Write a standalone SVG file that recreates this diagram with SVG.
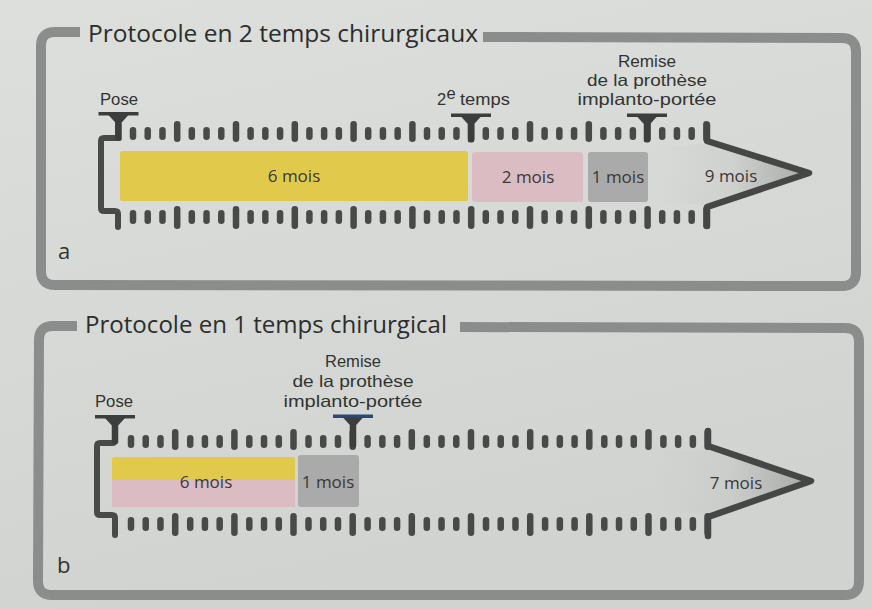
<svg xmlns="http://www.w3.org/2000/svg" xmlns:xlink="http://www.w3.org/1999/xlink" width="872" height="609" viewBox="0 0 872 609">
<style>
.frame{fill:none;stroke:#8b8d8c;stroke-width:10;stroke-linejoin:round}
.tick{fill:#484a49}
.brk{fill:none;stroke:#484a49;stroke-width:6;stroke-linejoin:round;stroke-linecap:round}
.arrow{fill:none;stroke:#454746;stroke-width:6.5;stroke-linejoin:round;stroke-linecap:round}
.shade{fill:url(#shadeGrad)}
.title{font-family:"Open Sans","Noto Sans",sans-serif;font-size:24.5px;fill:#2c2e2d}
.lbl{font-family:"Liberation Sans",Arial,sans-serif;font-size:16.5px;fill:#323433}
.bar{font-family:"Open Sans","Noto Sans",sans-serif;font-size:17px;fill:#3a3838}
.mid{text-anchor:middle}
.panel{font-family:"Open Sans","Noto Sans",sans-serif;font-size:22px;fill:#333}
.yellow{fill:#e1ca4b}
.pink{fill:#dbbcc3}
.grey{fill:#a9aaa9}
</style>
<defs>
<linearGradient id="bg" x1="0" y1="0" x2="0.3" y2="1">
<stop offset="0" stop-color="#dcdfdb"/>
<stop offset="1" stop-color="#d0d3cf"/>
</linearGradient>
<linearGradient id="shadeGrad" x1="0" y1="0" x2="1" y2="0">
<stop offset="0" stop-color="#9a9b9b" stop-opacity="0"/>
<stop offset="0.5" stop-color="#9a9b9b" stop-opacity="0.12"/>
<stop offset="1" stop-color="#9a9b9b" stop-opacity="0.75"/>
</linearGradient>
<g id="quadTop">
<rect class="tick" x="-3.25" y="0" width="6.5" height="13" rx="3.25"/>
<rect class="tick" x="11.48" y="0" width="6.5" height="13" rx="3.25"/>
<rect class="tick" x="26.22" y="0" width="6.5" height="13" rx="3.25"/>
<rect class="tick" x="40.95" y="-6" width="6.5" height="21" rx="3.25"/>
</g>
<g id="quadBot">
<rect class="tick" x="-3.25" y="0" width="6.5" height="14" rx="3.25"/>
<rect class="tick" x="11.48" y="0" width="6.5" height="14" rx="3.25"/>
<rect class="tick" x="26.22" y="0" width="6.5" height="14" rx="3.25"/>
<rect class="tick" x="40.95" y="-4" width="6.5" height="23" rx="3.25"/>
</g>
<g id="tmark">
<rect x="-20" y="0" width="40" height="3.5" fill="#3c3e3d"/>
<polygon points="-10,3 10,3 3.2,10.5 -3.2,10.5" fill="#3c3e3d"/>
<rect x="-3.25" y="9" width="6.5" height="20" rx="2.5" fill="#3c3e3d"/>
</g>
<g id="tmarkBlue">
<polygon points="-10,3 10,3 3.2,10.5 -3.2,10.5" fill="#3c3e3d"/>
<rect x="-3.25" y="9" width="6.5" height="24" rx="2.5" fill="#3c3e3d"/>
<rect x="-20" y="0" width="40" height="3.5" fill="#2b4776"/>
</g>
</defs>

<rect width="872" height="609" fill="url(#bg)"/>

<!-- Panel a -->
<g id="panel-a">
<path class="frame" d="M80,32 L55,32 Q41,32 41,46 L41,271 Q41,285 55,285 L842,286 Q856,286 856,272 L856,52 Q856,38 842,38 L483,37"/>
<text class="title" x="88" y="42" textLength="390" lengthAdjust="spacingAndGlyphs">Protocole en 2 temps chirurgicaux</text>
<text class="panel" x="58" y="259">a</text>
</g>

<g id="bars-a">
<rect class="yellow" x="120" y="151" width="348" height="50" rx="2"/>
<rect class="pink" x="472" y="152" width="111" height="50" rx="3"/>
<rect class="grey" x="588" y="152" width="60" height="50" rx="3"/>
<polygon class="shade" points="655,146 706,144 808,173 706,205 655,203"/>
<text class="bar mid" x="294" y="182">6 mois</text>
<text class="bar mid" x="528" y="183">2 mois</text>
<text class="bar mid" x="618" y="183">1 mois</text>
<text class="bar mid" x="731" y="182">9 mois</text>
</g>

<g id="ticks-a">
<use xlink:href="#quadTop" x="133" y="127"/><use xlink:href="#quadTop" x="191.8" y="127"/><use xlink:href="#quadTop" x="250.6" y="127"/><use xlink:href="#quadTop" x="309.4" y="127"/><use xlink:href="#quadTop" x="368.2" y="127"/><use xlink:href="#quadTop" x="427" y="127"/><use xlink:href="#quadTop" x="485.8" y="127"/><use xlink:href="#quadTop" x="544.6" y="127"/><use xlink:href="#quadTop" x="603.4" y="127"/><use xlink:href="#quadTop" x="662.2" y="127"/>
<use xlink:href="#quadBot" x="133" y="210"/><use xlink:href="#quadBot" x="191.8" y="210"/><use xlink:href="#quadBot" x="250.6" y="210"/><use xlink:href="#quadBot" x="309.4" y="210"/><use xlink:href="#quadBot" x="368.2" y="210"/><use xlink:href="#quadBot" x="427" y="210"/><use xlink:href="#quadBot" x="485.8" y="210"/><use xlink:href="#quadBot" x="544.6" y="210"/><use xlink:href="#quadBot" x="603.4" y="210"/><use xlink:href="#quadBot" x="662.2" y="210"/>
</g>

<g id="connectors-a">
<path class="brk" d="M118,118 V135 Q118,138 115,138 H104 Q101,138 101,141 V208 Q101,211 104,211 H115 Q118,211 118,214 V227"/>
<path class="arrow" d="M707,125 V141 L809,173 L707,207 V226"/>
</g>

<g id="marker-pose-a">
<use xlink:href="#tmark" x="118.5" y="112"/>
<text class="lbl" x="100" y="105" textLength="38" lengthAdjust="spacingAndGlyphs">Pose</text>
</g>
<g id="marker-2e-temps">
<use xlink:href="#tmark" x="471" y="113.5"/>
<text class="lbl" x="437" y="105">2</text>
<text class="lbl" x="446.5" y="99" font-size="11">e</text>
<text class="lbl" x="460" y="105" textLength="50" lengthAdjust="spacingAndGlyphs">temps</text>
</g>
<g id="marker-remise-a">
<use xlink:href="#tmark" x="647" y="113.5"/>
<text class="lbl mid" x="647" y="67" textLength="58" lengthAdjust="spacingAndGlyphs">Remise</text>
<text class="lbl mid" x="647" y="86" textLength="120" lengthAdjust="spacingAndGlyphs">de la prothèse</text>
<text class="lbl mid" x="647" y="105" textLength="139" lengthAdjust="spacingAndGlyphs">implanto-portée</text>
</g>

<!-- Panel b -->
<g id="panel-b">
<path class="frame" d="M77,326 L53,326 Q39,326 39,340 L38,581 Q38,595 52,595 L845,595 Q859,595 859,581 L859,342 Q859,328 845,328 L460,327"/>
<text class="title" x="85" y="333" textLength="362" lengthAdjust="spacingAndGlyphs">Protocole en 1 temps chirurgical</text>
<text class="panel" x="57" y="573">b</text>
</g>

<g id="bars-b">
<rect class="yellow" x="112" y="457" width="183" height="24" rx="2"/>
<rect class="pink" x="112" y="480" width="183" height="27"/>
<rect class="grey" x="298" y="455" width="61" height="52" rx="3"/>
<polygon class="shade" points="655,452 708,450 811,481 708,514 655,512"/>
<text class="bar mid" x="206" y="488">6 mois</text>
<text class="bar mid" x="328" y="488">1 mois</text>
<text class="bar mid" x="736" y="489">7 mois</text>
</g>

<g id="ticks-b">
<use xlink:href="#quadTop" x="131" y="435"/><use xlink:href="#quadTop" x="190.2" y="435"/><use xlink:href="#quadTop" x="249.3" y="435"/><use xlink:href="#quadTop" x="308.5" y="435"/><use xlink:href="#quadTop" x="367.6" y="435"/><use xlink:href="#quadTop" x="426.8" y="435"/><use xlink:href="#quadTop" x="486" y="435"/><use xlink:href="#quadTop" x="545.1" y="435"/><use xlink:href="#quadTop" x="604.3" y="435"/><use xlink:href="#quadTop" x="663.4" y="435"/>
<use xlink:href="#quadBot" x="131" y="517"/><use xlink:href="#quadBot" x="190.2" y="517"/><use xlink:href="#quadBot" x="249.3" y="517"/><use xlink:href="#quadBot" x="308.5" y="517"/><use xlink:href="#quadBot" x="367.6" y="517"/><use xlink:href="#quadBot" x="426.8" y="517"/><use xlink:href="#quadBot" x="486" y="517"/><use xlink:href="#quadBot" x="545.1" y="517"/><use xlink:href="#quadBot" x="604.3" y="517"/><use xlink:href="#quadBot" x="663.4" y="517"/>
</g>

<g id="connectors-b">
<path class="brk" d="M115,424 V440 Q115,443 112,443 H100 Q97,443 97,446 V512 Q97,515 100,515 H112 Q115,515 115,518 V535"/>
<path class="arrow" d="M708,431 V446 L811,481 L708,517 V536"/>
</g>

<g id="marker-pose-b">
<use xlink:href="#tmark" x="115" y="415"/>
<text class="lbl" x="95" y="407" textLength="38" lengthAdjust="spacingAndGlyphs">Pose</text>
</g>
<g id="marker-remise-b">
<use xlink:href="#tmarkBlue" x="353" y="414.5"/>
<text class="lbl mid" x="353" y="367" textLength="56" lengthAdjust="spacingAndGlyphs">Remise</text>
<text class="lbl mid" x="353" y="387" textLength="121" lengthAdjust="spacingAndGlyphs">de la prothèse</text>
<text class="lbl mid" x="353" y="407" textLength="139" lengthAdjust="spacingAndGlyphs">implanto-portée</text>
</g>
</svg>
